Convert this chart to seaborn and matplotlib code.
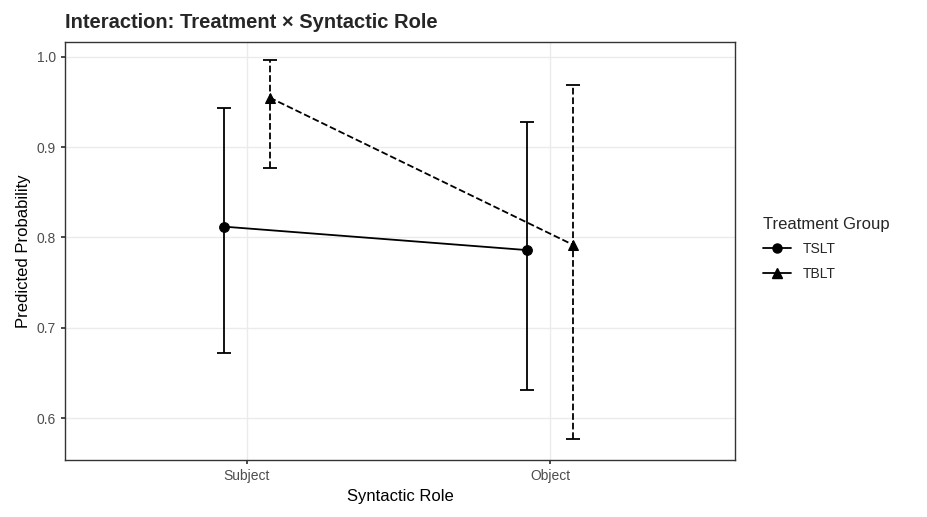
import matplotlib
matplotlib.use("Agg")
import matplotlib.pyplot as plt
import seaborn as sns
import pandas as pd
import numpy as np

roles = ["Subject", "Object"]
groups = ["TSLT", "TBLT"]
tslt_fit = [0.812, 0.786]
tslt_lo = [0.672, 0.631]
tslt_hi = [0.944, 0.928]
tblt_fit = [0.955, 0.792]
tblt_lo = [0.877, 0.577]
tblt_hi = [0.997, 0.969]

sns.set_theme(style="whitegrid")
plt.rcParams['font.family'] = ['Liberation Sans', 'DejaVu Sans']
fig = plt.figure(figsize=(9.27, 5.17), dpi=100)
ax = fig.add_axes([0.0701, 0.1103, 0.7228, 0.8085])

offs = {"TSLT": -0.075, "TBLT": 0.075}
styles = {"TSLT": ("-", "o"), "TBLT": ("--", "^")}
data = {"TSLT": (tslt_fit, tslt_lo, tslt_hi), "TBLT": (tblt_fit, tblt_lo, tblt_hi)}
rows = []
for g in groups:
    f, lo, hi = data[g]
    for i, r in enumerate(roles):
        rows.append(dict(group=g, x=i + offs[g], fit=f[i], lo=lo[i], hi=hi[i]))
df = pd.DataFrame(rows)

handles = []
for g in groups:
    d = df[df.group == g]
    ls, mk = styles[g]
    sns.lineplot(data=d, x="x", y="fit", ax=ax, color="black", linestyle=ls,
                 marker=mk, markersize=7, markeredgecolor="black", lw=1.3, legend=False)
    eb = ax.errorbar(d.x, d.fit, yerr=[d.fit - d.lo, d.hi - d.fit], fmt="none",
                     ecolor="black", capsize=5, elinewidth=1.3, capthick=1.3)
    for c in eb[2]:
        c.set_linestyle(ls)
    h, = ax.plot([], [], color="black", linestyle="-", marker=mk, markersize=6.5, lw=1.3, label=g)
    handles.append(h)

ax.set_xlim(-0.6, 1.61)
ax.set_ylim(0.5535, 1.0166)
ax.set_xticks([0, 1])
ax.set_xticklabels(roles)
ax.set_yticks([0.6, 0.7, 0.8, 0.9, 1.0])
ax.set_yticklabels(["0.6", "0.7", "0.8", "0.9", "1.0"])
ax.tick_params(labelsize=10, colors="#4d4d4d", length=3, left=True, bottom=True, color="#333333")
ax.grid(True, color="#ebebeb", lw=1)
for s in ax.spines.values():
    s.set_color("#333333"); s.set_linewidth(1)
ax.set_xlabel("Syntactic Role", fontsize=12, color="black")
ax.set_ylabel("Predicted Probability", fontsize=12, color="black")
fig.text(0.0701, 0.945, "Interaction: Treatment × Syntactic Role", fontsize=14.5, fontweight="bold")
leg = fig.legend(handles=handles, title="Treatment Group", loc="upper left",
                 bbox_to_anchor=(0.81, 0.605), frameon=False, fontsize=10,
                 title_fontsize=12, handlelength=2, labelspacing=0.75)
leg._legend_box.align = "left"
fig.savefig("out.png", dpi=100)
